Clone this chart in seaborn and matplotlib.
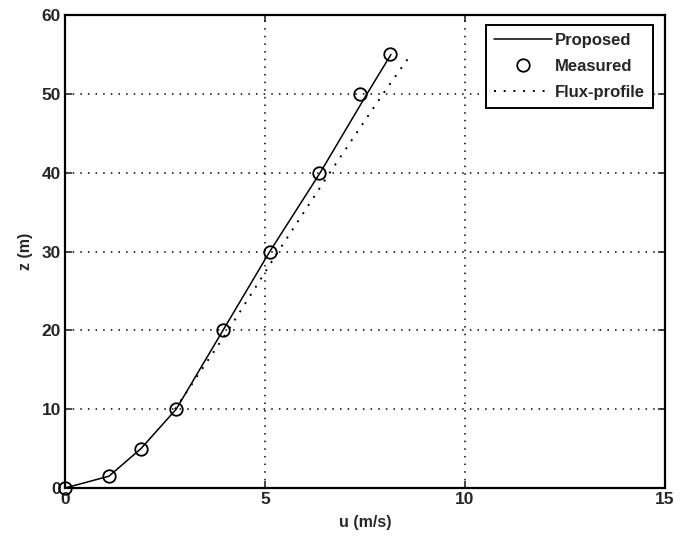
import matplotlib
matplotlib.use("Agg")
import matplotlib.pyplot as plt
import seaborn as sns
import pandas as pd

# Wind speed profiles: height z (m) versus speed u (m/s)
z_measured = [0, 1.5, 5, 10, 20, 30, 40, 50, 55]
u_measured = [0, 1.1, 1.9, 2.78, 3.95, 5.12, 6.35, 7.38, 8.13]

z_proposed = [0, 1.5, 5, 10, 20, 30, 40, 50, 55]
u_proposed = [0, 1.1, 1.9, 2.78, 3.95, 5.12, 6.38, 7.55, 8.15]

z_flux = [10, 20, 30, 40, 50, 54.5]
u_flux = [2.75, 4.08, 5.33, 6.62, 7.95, 8.58]

x_ticks = [0, 5, 10, 15]
y_ticks = [0, 10, 20, 30, 40, 50, 60]

sns.set_style("white")
plt.rcParams["font.family"] = ["Liberation Sans", "DejaVu Sans"]
plt.rcParams["font.weight"] = "bold"

fig = plt.figure(figsize=(6.8, 5.45), dpi=100)
ax = fig.add_axes([65 / 680, 1 - 488 / 545, 600 / 680, 473 / 545])

proposed = pd.DataFrame({"u": u_proposed, "z": z_proposed})
measured = pd.DataFrame({"u": u_measured, "z": z_measured})
flux = pd.DataFrame({"u": u_flux, "z": z_flux})

sns.lineplot(data=proposed, x="u", y="z", ax=ax, color="black", lw=1.1,
             sort=False, label="Proposed")
sns.lineplot(data=measured, x="u", y="z", ax=ax, color="black", lw=0,
             marker="o", markersize=9, markerfacecolor="none",
             markeredgecolor="black", markeredgewidth=1.3, sort=False,
             label="Measured")
ax.lines[-1].set_clip_on(False)
sns.lineplot(data=flux, x="u", y="z", ax=ax, color="black", lw=1.4,
             linestyle=(0, (1, 4)), sort=False, label="Flux-profile")

ax.set_xlim(0, 15)
ax.set_ylim(0, 60)
ax.set_xticks(x_ticks)
ax.set_yticks(y_ticks)
ax.set_xticklabels([str(t) for t in x_ticks])
ax.set_yticklabels([str(t) for t in y_ticks])
ax.tick_params(direction="in", length=5, width=1.2, labelsize=12.5,
               top=True, right=True, bottom=True, left=True, pad=3)
ax.grid(True, color="black", linestyle=(0, (1, 4)), linewidth=1.1)
for s in ax.spines.values():
    s.set_color("black")
    s.set_linewidth(1.6)

ax.set_xlabel("u (m/s)", fontsize=11.5, fontweight="bold", labelpad=6)
ax.set_ylabel("z (m)", fontsize=11.5, fontweight="bold", labelpad=6)

leg = ax.legend(loc="upper right", bbox_to_anchor=(0.98, 0.979),
                fontsize=12, frameon=True, fancybox=False, handlelength=3.5,
                handletextpad=0.15, borderpad=0.5, labelspacing=0.65,
                borderaxespad=0)
leg.get_frame().set_edgecolor("black")
leg.get_frame().set_linewidth(1.4)
leg.get_frame().set_alpha(1)

fig.savefig("out.png", dpi=100)
